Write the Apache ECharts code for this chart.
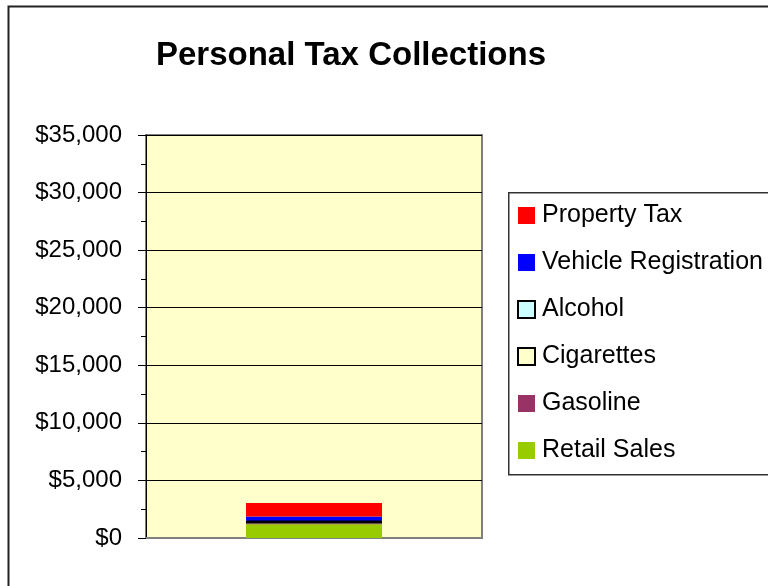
<!DOCTYPE html>
<html><head><meta charset="utf-8">
<script src="https://cdn.jsdelivr.net/npm/echarts@6/dist/echarts.min.js"></script>
<style>html,body{margin:0;padding:0;background:#fff}#c{width:768px;height:586px}</style>
</head><body><div id="c"></div>
<script>
var categories = ['2005'];
var seriesNames = ['Retail Sales', 'Gasoline', 'Cigarettes', 'Alcohol', 'Vehicle Registration', 'Property Tax'];
var retailSales = [1190];
var gasoline = [60];
var cigarettes = [230];
var alcohol = [50];
var vehicleRegistration = [345];
var propertyTax = [1155];
var legendOrder = ['Property Tax', 'Vehicle Registration', 'Alcohol', 'Cigarettes', 'Gasoline', 'Retail Sales'];
var yTicks = [0, 5000, 10000, 15000, 20000, 25000, 30000, 35000];

var colors = {
  'Retail Sales': '#99CC00', 'Gasoline': '#993366', 'Cigarettes': '#FFFFCC',
  'Alcohol': '#CCFFFF', 'Vehicle Registration': '#0000FF', 'Property Tax': '#FF0000'
};
var dataMap = {
  'Retail Sales': retailSales, 'Gasoline': gasoline, 'Cigarettes': cigarettes,
  'Alcohol': alcohol, 'Vehicle Registration': vehicleRegistration, 'Property Tax': propertyTax
};
var bordered = {'Cigarettes': true, 'Alcohol': true};

var series = seriesNames.map(function (n) {
  return {
    name: n, type: 'bar', stack: 'total', data: dataMap[n], barWidth: 136,
    itemStyle: {
      color: colors[n],
      borderColor: bordered[n] ? '#000' : colors[n],
      borderWidth: bordered[n] ? 2 : 0
    }
  };
});

var chart = echarts.init(document.getElementById('c'), null, {renderer: 'canvas'});
chart.setOption({
  animation: false,
  backgroundColor: '#fff',
  textStyle: {fontFamily: 'Liberation Sans, Arial, sans-serif'},
  title: {
    text: 'Personal Tax Collections', left: 346, top: 34, textAlign: 'center',
    textStyle: {fontFamily: 'Liberation Sans, Arial, sans-serif', fontSize: 33, fontWeight: 'bold', color: '#000'}
  },
  graphic: [
    {type: 'rect', left: 6, top: 4, shape: {x: 0, y: 0, width: 800, height: 620},
     style: {fill: 'none', stroke: '#222', lineWidth: 2}, z: 100},
    {type: 'rect', left: 508, top: 192, shape: {x: 0, y: 0, width: 300, height: 282},
     style: {fill: '#fff', stroke: '#333', lineWidth: 1.5}, z: 1}
  ],
  legend: {
    data: legendOrder, orient: 'vertical', left: 517, top: 203, z: 5,
    itemWidth: 17, itemHeight: 17, itemGap: 22, padding: 0,
    textStyle: {fontSize: 25, color: '#000', padding: [0, 0, 0, 2], fontFamily: 'Liberation Sans, Arial, sans-serif'},
    icon: 'rect'
  },
  grid: {
    left: 146, right: 286, top: 135, bottom: 48, show: true,
    backgroundColor: '#FFFFCC', borderColor: '#808080', borderWidth: 2
  },
  xAxis: {
    type: 'category', data: categories,
    axisLine: {show: true, lineStyle: {color: '#808080', width: 2}},
    axisTick: {show: false}, axisLabel: {show: false}
  },
  yAxis: {
    type: 'value', min: yTicks[0], max: yTicks[yTicks.length - 1], interval: 5000,
    axisLine: {show: true, lineStyle: {color: '#000', width: 1}},
    axisTick: {show: true, length: 8, lineStyle: {color: '#000'}},
    minorTick: {show: true, splitNumber: 2, length: 5, lineStyle: {color: '#000'}},
    splitLine: {show: true, lineStyle: {color: '#000', width: 1}},
    axisLabel: {
      fontSize: 24, color: '#000', margin: 24,
      formatter: function (v) { return '$' + v.toLocaleString('en-US'); }
    }
  },
  series: series
});
</script></body></html>
